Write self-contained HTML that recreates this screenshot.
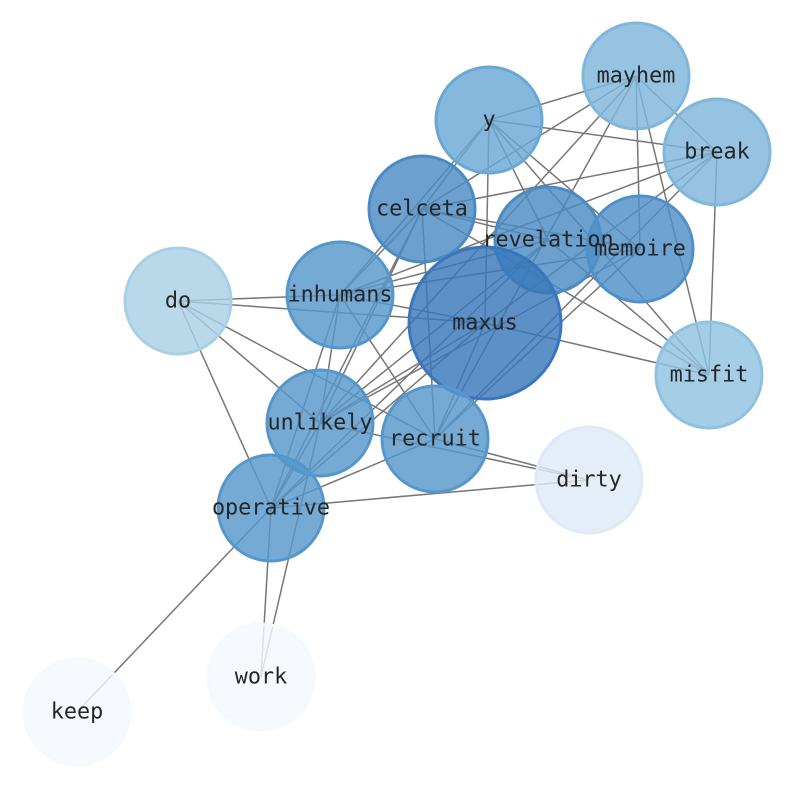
<!DOCTYPE html>
<html><head><meta charset="utf-8"><style>body{margin:0;background:#fff}svg{display:block}text{font-family:"DejaVu Sans Mono","Liberation Mono",monospace;font-size:21.8px;fill:#262626;text-anchor:middle;dominant-baseline:central}</style></head><body>
<svg width="794" height="790" viewBox="0 0 794 790" xmlns="http://www.w3.org/2000/svg">
<g stroke="#777" stroke-width="1.5" id="e"></g>
<g id="n"></g>
<g id="t"></g>
<script>
var N={mayhem:[636,76,53,"#7fb6da"],"break":[717,152,53,"#7fb6da"],y:[489,120,53,"#6aa8d4"],celceta:[422,209,53,"#4a8bc4"],revelation:[548,240,53,"#4a8bc4"],memoire:[640,249,53,"#4f90c8"],"do":[178,301,53,"#a9cfe5"],inhumans:[340,295,53,"#5697cb"],maxus:[485,323,76,"#3877bb"],misfit:[709,375,53,"#90c2e0"],unlikely:[320,423,53,"#5697cb"],recruit:[435,439,53,"#5697cb"],dirty:[589,480,53,"#dfeaf7"],operative:[271,508,53,"#5697cb"],work:[261,677,53,"#f4f9fe"],keep:[77,712,53,"#f4f9fe"]};
var E="mayhem-y mayhem-celceta mayhem-break mayhem-memoire mayhem-misfit mayhem-unlikely mayhem-recruit break-y break-celceta break-misfit break-inhumans break-maxus break-recruit y-celceta y-inhumans y-maxus y-revelation y-memoire y-misfit celceta-inhumans celceta-unlikely celceta-operative celceta-recruit celceta-revelation celceta-memoire celceta-misfit revelation-inhumans revelation-unlikely revelation-operative revelation-misfit memoire-inhumans memoire-unlikely memoire-recruit do-inhumans do-maxus do-unlikely do-recruit do-operative inhumans-recruit inhumans-operative inhumans-unlikely inhumans-maxus maxus-misfit maxus-unlikely maxus-operative maxus-recruit unlikely-dirty unlikely-work unlikely-operative operative-dirty operative-recruit operative-keep operative-work recruit-dirty".split(" ");
var s="http://www.w3.org/2000/svg",ge=document.getElementById("e"),gn=document.getElementById("n"),gt=document.getElementById("t");
E.forEach(function(p){var a=p.split("-"),A=N[a[0]],B=N[a[1]],l=document.createElementNS(s,"line");l.setAttribute("x1",A[0]);l.setAttribute("y1",A[1]);l.setAttribute("x2",B[0]);l.setAttribute("y2",B[1]);ge.appendChild(l);});
for(var k in N){var v=N[k],c=document.createElementNS(s,"circle");c.setAttribute("cx",v[0]);c.setAttribute("cy",v[1]);c.setAttribute("r",v[2]);c.setAttribute("fill",v[3]);c.setAttribute("fill-opacity","0.82");c.setAttribute("stroke",v[3]);c.setAttribute("stroke-width","3");gn.appendChild(c);var t=document.createElementNS(s,"text");t.setAttribute("x",v[0]);t.setAttribute("y",v[1]);t.textContent=k;gt.appendChild(t);}
</script>
</svg></body></html>
